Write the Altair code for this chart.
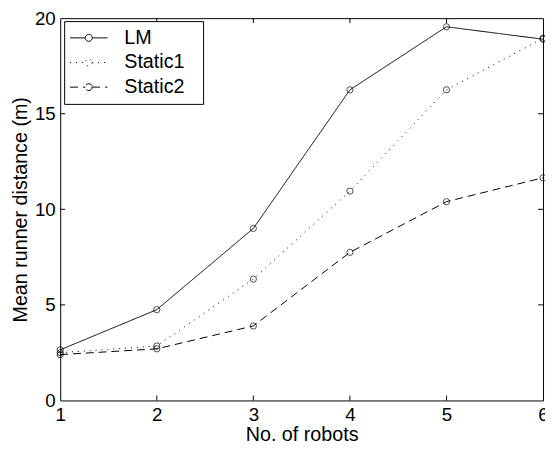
import altair as alt
import pandas as pd

robots = [1, 2, 3, 4, 5, 6]
lm = [2.65, 4.75, 9.0, 16.25, 19.55, 18.9]
static1 = [2.5, 2.85, 6.35, 10.95, 16.25, 18.95]
static2 = [2.4, 2.7, 3.9, 7.75, 10.4, 11.65]
series_names = ["LM", "Static1", "Static2"]
x_ticks = [2, 3, 4, 5]
y_ticks = [5, 10, 15]
x_labels = [1, 2, 3, 4, 5, 6]
y_labels = [0, 5, 10, 15, 20]

rows = []
for name, vals in zip(series_names, [lm, static1, static2]):
    for r, v in zip(robots, vals):
        rows.append({"robots": r, "dist": v, "series": name})
df = pd.DataFrame(rows)
xt = pd.DataFrame({"robots": x_ticks})
yt = pd.DataFrame({"dist": y_ticks})

W, H = 490, 388
FONT = "Liberation Sans"

xscale = alt.Scale(domain=[1, 6], nice=False, zero=False)
yscale = alt.Scale(domain=[0, 20], nice=False)
xaxis = alt.Axis(values=x_labels, title="No. of robots", format="d", labelFlush=False)
yaxis = alt.Axis(values=y_labels, title="Mean runner distance (m)", labelFlush=False)
X = alt.X("robots:Q", scale=xscale, axis=xaxis)
Y = alt.Y("dist:Q", scale=yscale, axis=yaxis)

sym = ("M-1.16,0H0.47M1.21,0H2.84"
       "M1.21,0A0.37,0.37 0 1,1 0.47,0A0.37,0.37 0 1,1 1.21,0")

lines = alt.Chart(df).mark_line(color="black", strokeWidth=1).encode(
    x=X, y=Y,
    strokeDash=alt.StrokeDash(
        "series:N",
        scale=alt.Scale(domain=series_names, range=[[1, 0], [1, 5], [8, 5]]),
        legend=alt.Legend(
            title="\u00a0", titleOrient="right", titleFontSize=1, titlePadding=12,
            orient="none", legendX=4, legendY=3,
            strokeColor="black", fillColor="white", padding=7,
            symbolType=sym, symbolSize=361, symbolStrokeColor="black",
            symbolStrokeWidth=1, labelFont=FONT, labelFontSize=20,
            labelColor="black", labelOffset=34, rowPadding=5,
        ),
    ),
)

points = alt.Chart(df).mark_point(
    shape="circle", filled=False, color="black", size=40, strokeWidth=1
).encode(x=X, y=Y)

tick_len = 5
tb = alt.Chart(xt).mark_rule(color="black", strokeWidth=1).encode(
    x=X, y=alt.value(H), y2=alt.value(H - tick_len))
tt = alt.Chart(xt).mark_rule(color="black", strokeWidth=1).encode(
    x=X, y=alt.value(0), y2=alt.value(tick_len))
tl = alt.Chart(yt).mark_rule(color="black", strokeWidth=1).encode(
    y=Y, x=alt.value(0), x2=alt.value(tick_len))
tr = alt.Chart(yt).mark_rule(color="black", strokeWidth=1).encode(
    y=Y, x=alt.value(W), x2=alt.value(W - tick_len))

chart = alt.layer(lines, points, tb, tt, tl, tr).properties(
    width=W, height=H,
    autosize=alt.AutoSizeParams(type="none"),
    padding={"left": 53, "top": 7, "right": 2, "bottom": 50},
    background="white",
).configure_view(
    stroke="black", strokeWidth=1
).configure_axis(
    domain=False, ticks=False, tickSize=0, grid=False,
    labelFont=FONT, labelFontSize=19, labelColor="black",
    titleFont=FONT, titleFontSize=20, titleColor="black", titleFontWeight="normal",
).configure_axisX(
    labelPadding=5, titlePadding=1,
).configure_axisY(
    labelPadding=5, titlePadding=4,
)

chart.save("out.html", embed_options={"renderer": "svg", "actions": False})
